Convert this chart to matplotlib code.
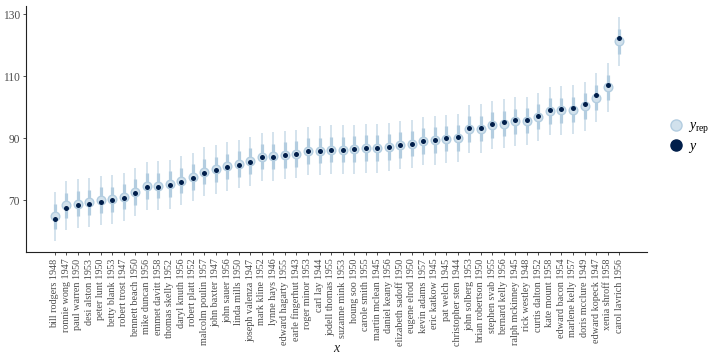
import matplotlib
matplotlib.use("Agg")
import matplotlib.pyplot as plt
from matplotlib.lines import Line2D
import numpy as np

plt.rcParams['font.family'] = ['Liberation Serif', 'DejaVu Serif']
plt.rcParams['mathtext.fontset'] = 'custom'
plt.rcParams['mathtext.rm'] = 'Liberation Serif'
plt.rcParams['mathtext.it'] = 'Liberation Serif:italic'

names = ["bill rodgers 1948", "ronnie wong 1947", "paul warren 1950", "desi alston 1953",
         "peter lunt 1950", "betty blank 1953", "robert trost 1947", "bennett beach 1950",
         "mike duncan 1956", "emmet davitt 1958", "thomas skelly 1952", "daryl knuth 1956",
         "robert platt 1952", "malcolm poulin 1957", "john baxter 1947", "john sauer 1956",
         "linda mills 1950", "joseph valenza 1947", "mark kline 1952", "lynne hays 1946",
         "edward hagarty 1955", "earle fingerhut 1943", "roger minor 1953", "carl lay 1944",
         "jodell thomas 1955", "suzanne mink 1953", "houng soo 1950", "carole smith 1955",
         "martin mclean 1945", "daniel keany 1956", "elizabeth sadoff 1950", "eugene elrod 1950",
         "kevin adams 1957", "eric katkow 1945", "pat welch 1945", "christopher sten 1944",
         "john solberg 1953", "brian robertson 1950", "stephen svab 1955", "bernard kelly 1956",
         "ralph mckinney 1945", "rick westley 1948", "curtis dalton 1952", "kate mount 1958",
         "edward bacon 1954", "marlene kelly 1957", "doris mcclure 1949", "edward kopeck 1947",
         "xenia shroff 1958", "carol lavrich 1956"]

y_obs = [64.0, 67.6, 68.4, 68.7, 69.5, 69.9, 70.6, 72.2, 74.2, 74.4,
         74.9, 76.0, 77.2, 78.9, 79.6, 80.6, 81.5, 82.4, 84.0, 84.0,
         84.5, 84.8, 85.8, 85.9, 86.2, 86.3, 86.4, 86.7, 86.7, 87.2,
         87.8, 88.2, 89.2, 89.5, 89.9, 90.3, 93.2, 93.3, 94.6, 95.1,
         95.7, 95.9, 97.3, 99.2, 99.5, 99.8, 100.9, 103.8, 107.0, 122.4]

yrep_med = [64.8, 68.3, 68.9, 69.3, 70.0, 70.3, 71.1, 72.7, 74.6, 74.7,
            75.2, 76.3, 77.5, 79.2, 79.9, 80.9, 81.7, 82.6, 84.0, 84.1,
            84.6, 84.9, 85.9, 86.0, 86.3, 86.3, 86.5, 86.8, 86.8, 87.2,
            87.8, 88.2, 89.1, 89.4, 89.8, 90.1, 93.0, 93.1, 94.3, 94.7,
            95.4, 95.6, 96.9, 98.8, 99.0, 99.2, 100.3, 103.1, 106.4, 121.2]

lo50 = [60.6, 64.2, 64.8, 65.2, 65.9, 66.2, 67.0, 68.6, 70.5, 70.6,
        71.1, 72.2, 73.4, 75.1, 75.8, 76.8, 77.6, 78.5, 79.9, 80.0,
        80.5, 80.8, 81.8, 81.9, 82.2, 82.2, 82.4, 82.7, 82.7, 83.1,
        83.7, 84.1, 85.0, 85.3, 85.7, 86.0, 88.9, 89.0, 90.2, 90.6,
        91.3, 91.5, 92.8, 94.7, 94.9, 95.1, 96.2, 99.0, 102.3, 117.0]
hi50 = [68.9, 72.4, 73.0, 73.4, 74.1, 74.4, 75.2, 76.8, 78.7, 78.8,
        79.3, 80.4, 81.6, 83.3, 84.0, 85.0, 85.8, 86.7, 88.1, 88.2,
        88.7, 89.0, 90.0, 90.1, 90.4, 90.4, 90.6, 90.9, 90.9, 91.3,
        91.9, 92.3, 93.2, 93.5, 93.9, 94.2, 97.1, 97.2, 98.4, 98.8,
        99.5, 99.7, 101.0, 102.9, 103.1, 103.3, 104.4, 107.2, 110.5, 125.2]
lo90 = [56.9, 60.4, 61.0, 61.4, 62.1, 62.4, 63.2, 64.8, 66.7, 66.8,
        67.3, 68.4, 69.6, 71.3, 72.0, 73.0, 73.8, 74.7, 76.1, 76.2,
        76.7, 77.0, 78.0, 78.1, 78.4, 78.4, 78.6, 78.9, 78.9, 79.3,
        79.9, 80.3, 81.2, 81.5, 81.9, 82.2, 85.1, 85.2, 86.4, 86.8,
        87.5, 87.7, 89.0, 90.9, 91.1, 91.3, 92.4, 95.2, 98.5, 113.3]
hi90 = [72.6, 76.1, 76.7, 77.1, 77.8, 78.1, 78.9, 80.5, 82.4, 82.5,
        83.0, 84.1, 85.3, 87.0, 87.7, 88.7, 89.5, 90.4, 91.8, 91.9,
        92.4, 92.7, 93.7, 93.8, 94.1, 94.1, 94.3, 94.6, 94.6, 95.0,
        95.6, 96.0, 96.9, 97.2, 97.6, 97.9, 100.8, 100.9, 102.1, 102.5,
        103.2, 103.4, 104.7, 106.6, 106.8, 107.0, 108.1, 110.9, 114.2, 128.9]

yticks = [70, 90, 110, 130]

LIGHT = "#d1e1ec"
MID = "#b3cde0"
DARK = "#011f4b"
TXT = "#4d4d4d"

fig = plt.figure(figsize=(7.2, 3.6), dpi=100)
ax = fig.add_axes([26.3/720, 1-252.3/360, (647.3-26.3)/720, (252.3-6)/360])

x = np.arange(1, len(names)+1)
ax.vlines(x, lo90, hi90, color=LIGHT, lw=1.3, zorder=1)
ax.vlines(x, lo50, hi50, color=MID, lw=2.3, zorder=2)
ax.plot(x, yrep_med, 'o', ms=6.2, mfc=LIGHT, mec=MID, mew=1.0, zorder=3, ls='none')
ax.plot(x, y_obs, 'o', ms=3.6, mfc=DARK, mec=DARK, mew=0, zorder=4, ls='none')

ax.set_xlim(1-2.45, len(names)+2.45)
ax.set_ylim(53.2, 132.6)
ax.set_yticks(yticks)
ax.set_yticklabels([str(v) for v in yticks])
ax.set_xticks(x)
ax.set_xticklabels(names, rotation=90, fontsize=7.3, color=TXT)
ax.tick_params(axis='y', labelsize=8.3, labelcolor=TXT, length=2.5, width=0.6, color='#333333', pad=2)
ax.tick_params(axis='x', length=2.5, width=0.6, color='#333333', pad=2)
for s in ['top', 'right']:
    ax.spines[s].set_visible(False)
for s in ['left', 'bottom']:
    ax.spines[s].set_color('#222222')
    ax.spines[s].set_linewidth(0.8)

fig.text(337/720, 1-348/360, r'$\mathit{x}$', fontsize=10, ha='center', va='center', color='#222222')

h1 = Line2D([], [], marker='o', ms=8, mfc=LIGHT, mec=MID, mew=1.0, color=LIGHT, lw=0)
h2 = Line2D([], [], marker='o', ms=8, mfc=DARK, mec=DARK, mew=1.0, color=DARK, lw=0)
fig.legend([h1, h2], [r'$y_{\mathrm{rep}}$', r'$y$'], loc='center left',
           bbox_to_anchor=(655/720, 1-137/360), frameon=False, fontsize=10,
           handlelength=1.2, handletextpad=0.3, labelspacing=0.3)

fig.savefig("out.png", dpi=100)
